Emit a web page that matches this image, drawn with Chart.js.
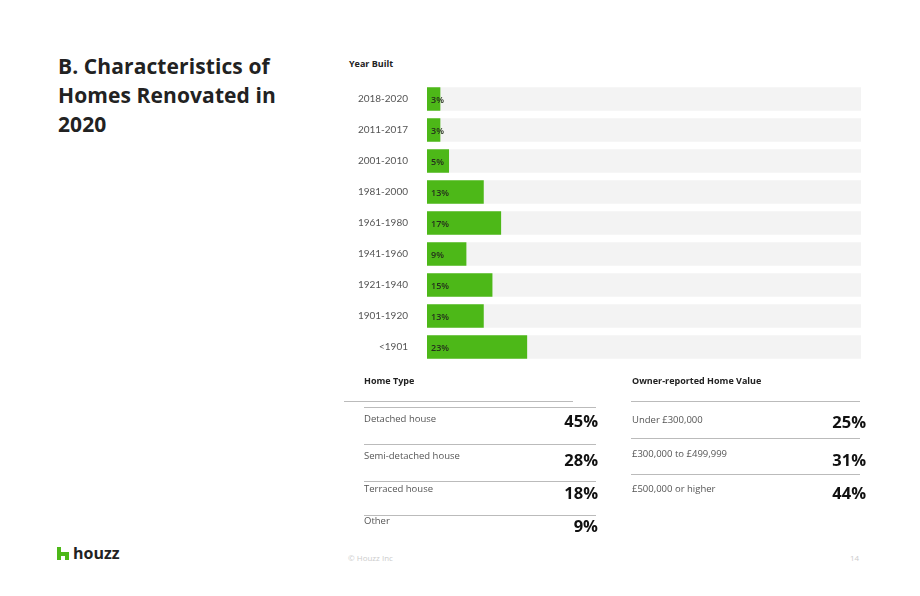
<!DOCTYPE html>
<html>
<head>
<meta charset="utf-8">
<script src="https://cdn.jsdelivr.net/npm/chart.js@4"></script>
<style>
    body { margin: 0; background: #fff; font-family: "Open Sans", Lato, sans-serif; color: #222; }
    #page { position: relative; width: 920px; height: 596px; overflow: hidden; }
    .abs { position: absolute; white-space: nowrap; }
    h1 { position: absolute; left: 58px; top: 52px; margin: 0; font-size: 21px; line-height: 29px; font-weight: 700; color: #222; letter-spacing: 0.1px; }
    .head { font-size: 9px; font-weight: 700; color: #222; }
    .lbl { font-size: 9.5px; color: #555; }
    .val { font-size: 16.5px; font-weight: 700; color: #111; text-align: right; }
    .rule { position: absolute; height: 1px; background: #bbb; }
    #chartBox { position: absolute; left: 340px; top: 70px; width: 530px; height: 310px; }
</style>
</head>
<body>
<div id="page">
    <h1>B. Characteristics of<br>Homes Renovated in<br>2020</h1>
    <div class="abs head" style="left:349px; top:57px;">Year Built</div>
    <div id="chartBox"><canvas id="ChartYear" width="530" height="310"></canvas></div>

    <div class="abs head" style="left:364px; top:374px;">Home Type</div>
    <div id="homeType"></div>

    <div class="abs head" style="left:632px; top:374px;">Owner-reported Home Value</div>
    <div id="homeValue"></div>

    <svg class="abs" style="left:57px; top:547px;" width="12" height="13" viewBox="0 0 12 13">
        <path d="M0 0 H4 V5 H12 V13 H8 V9 H4 V13 H0 Z" fill="#4db818"/>
    </svg>
    <div class="abs" style="left:73px; top:542px; font-size:16px; font-weight:700; color:#222;">houzz</div>
    <div class="abs" style="left:348px; top:552px; font-size:8px; color:#ccc;">© Houzz Inc</div>
    <div class="abs" style="left:850px; top:552px; font-size:8px; color:#ccc;">14</div>
</div>

<script>
const yearLabels = ['2018-2020', '2011-2017', '2001-2010', '1981-2000', '1961-1980', '1941-1960', '1921-1940', '1901-1920', '<1901'];
const yearValues = [3, 3, 5, 13, 17, 9, 15, 13, 23];
const yearTrack = [100, 100, 100, 100, 100, 100, 100, 100, 100];

const homeTypeLabels = ['Detached house', 'Semi-detached house', 'Terraced house', 'Other'];
const homeTypeValues = [45, 28, 18, 9];

const homeValueLabels = ['Under £300,000', '£300,000 to £499,999', '£500,000 or higher'];
const homeValueValues = [25, 31, 44];

// small table blocks under the chart
function buildTable(id, labels, values, x, right, rules, labelTops, valueTops) {
    const box = document.getElementById(id);
    rules.forEach(r => {
        const d = document.createElement('div');
        d.className = 'rule';
        d.style.left = r[0] + 'px';
        d.style.width = (r[1] - r[0]) + 'px';
        d.style.top = r[2] + 'px';
        box.appendChild(d);
    });
    labels.forEach((label, i) => {
        const l = document.createElement('div');
        l.className = 'abs lbl';
        l.style.left = x + 'px';
        l.style.top = labelTops[i] + 'px';
        l.textContent = label;
        box.appendChild(l);

        const v = document.createElement('div');
        v.className = 'abs val';
        v.style.right = (920 - right) + 'px';
        v.style.top = valueTops[i] + 'px';
        v.textContent = values[i] + '%';
        box.appendChild(v);
    });
}

buildTable('homeType', homeTypeLabels, homeTypeValues, 364, 598,
    [[344, 573, 401], [364, 596, 407], [364, 596, 444], [364, 596, 481], [364, 596, 515]],
    [412, 449, 482, 514], [409, 448, 481, 514]);

buildTable('homeValue', homeValueLabels, homeValueValues, 632, 866,
    [[631, 860, 401], [631, 860, 438], [631, 860, 474]],
    [413, 447, 482], [410, 448, 481]);

const barLabels = {
    id: 'barLabels',
    afterDatasetsDraw(chart) {
        const ctx = chart.ctx;
        const meta = chart.getDatasetMeta(1);
        ctx.save();
        ctx.font = '600 9px "Open Sans", sans-serif';
        ctx.fillStyle = '#25301c';
        ctx.textBaseline = 'middle';
        meta.data.forEach((bar, i) => {
            ctx.fillText(yearValues[i] + '%', bar.base + 4, bar.y + 1);
        });
        ctx.restore();
    }
};

const chartYear = document.getElementById('ChartYear');
new Chart(chartYear, {
    type: 'bar',
    data: {
        labels: yearLabels,
        datasets: [{
            label: 'track',
            data: yearTrack,
            backgroundColor: '#f3f3f3',
            order: 2
        }, {
            label: 'Year Built',
            data: yearValues,
            backgroundColor: '#4db818',
            order: 1
        }]
    },
    options: {
        indexAxis: 'y',
        responsive: false,
        animation: false,
        layout: { padding: { top: 13.5, bottom: 17.5, right: 9, left: 0 } },
        datasets: {
            bar: { grouped: false, barThickness: 23 }
        },
        scales: {
            x: { display: false, min: 0, max: 100 },
            y: {
                grid: { display: false, drawTicks: false },
                border: { display: false },
                ticks: {
                    padding: 19,
                    color: '#555',
                    font: { family: 'Lato', size: 10 }
                },
                afterFit(scale) {
                    scale.width = 87;
                    scale.paddingTop = 0;
                    scale.paddingBottom = 0;
                }
            }
        },
        plugins: {
            legend: { display: false },
            tooltip: { enabled: false }
        }
    },
    plugins: [barLabels]
});
</script>
</body>
</html>
